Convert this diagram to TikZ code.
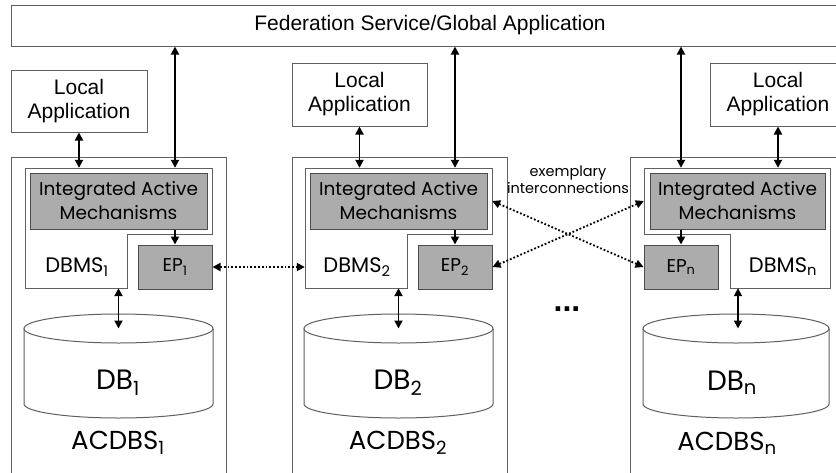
\documentclass[tikz,border=0pt]{standalone}
\usepackage{fontspec}
\setmainfont{Liberation Sans}
\newfontfamily\gothic{Poppins}
\usetikzlibrary{arrows.meta}
\definecolor{boxline}{RGB}{96,96,96}
\definecolor{boxfill}{RGB}{172,172,172}
\tikzset{
  box/.style={draw=boxline, line width=1pt, fill=white, inner sep=0pt, align=center},
  graybox/.style={box, fill=boxfill, draw=black!70},
  area/.style={inner sep=0pt},
  plain/.style={font=\fontsize{21}{24}\selectfont},
  goth/.style={font=\gothic\fontsize{18.5}{24}\selectfont},
  label/.style={font=\gothic\fontsize{21}{24}\selectfont},
  link/.style={{Triangle[length=8pt,width=8pt]}-{Triangle[length=8pt,width=8pt]}, line width=1.8pt},
  flow/.style={-{Triangle[length=8pt,width=8pt]}, line width=1.8pt},
  peer/.style={link, dotted}
}

\begin{document}
\begin{tikzpicture}[x=1pt,y=-1pt]
\clip (0,0) rectangle (836,472);

\node[box, minimum width=838, minimum height=41, font=\fontsize{21}{24}\selectfont] (fed) at (430,25.5) {Federation Service/Global Application};

\node[box, plain, minimum width=136, minimum height=62] (la1) at (79,101) {Local\\Application};
\node[box, plain, minimum width=135, minimum height=63] (la2) at (359.5,94.5) {Local\\Application};
\node[box, plain, minimum width=135, minimum height=63] (la3) at (778,94.5) {Local\\Application};

\node[box, minimum width=215, minimum height=333] (acdbs1) at (118.5,323.5) {};
\node[box, minimum width=215, minimum height=333] (acdbs2) at (399.5,323.5) {};
\node[box, minimum width=215, minimum height=333] (acdbs3) at (737.5,323.5) {};

% DBMS outlines
\node[area, minimum width=187, minimum height=120] (dbms1) at (118.5,228) {};
\node[area, minimum width=187, minimum height=120] (dbms2) at (398.5,228) {};
\node[area, minimum width=186, minimum height=120] (dbms3) at (737,228) {};
\draw[boxline, line width=1pt] (25,168) -- (212,168) -- (212,234) -- (127,234) -- (127,288) -- (25,288) -- cycle;
\draw[boxline, line width=1pt] (305,168) -- (492,168) -- (492,234) -- (407,234) -- (407,288) -- (305,288) -- cycle;
\draw[boxline, line width=1pt] (644,168) -- (830,168) -- (830,288) -- (730,288) -- (730,234) -- (644,234) -- cycle;

\node[graybox, goth, minimum width=177, minimum height=56] (iam1) at (118.5,201) {Integrated Active\\Mechanisms};
\node[graybox, goth, minimum width=177, minimum height=56] (iam2) at (398.5,201) {Integrated Active\\Mechanisms};
\node[graybox, goth, minimum width=175, minimum height=56] (iam3) at (737.5,201) {Integrated Active\\Mechanisms};

\node[graybox, goth, minimum width=74, minimum height=44] (ep1) at (175,267) {EP\textsubscript{1}};
\node[graybox, goth, minimum width=74, minimum height=44] (ep2) at (455,267) {EP\textsubscript{2}};
\node[graybox, goth, minimum width=74, minimum height=44] (ep3) at (681,267) {EP\textsubscript{n}};

\node[label] (dbmstxt1) at (77,267) {DBMS\textsubscript{1}};
\node[label] (dbmstxt2) at (357,267) {DBMS\textsubscript{2}};
\node[label] (dbmstxt3) at (783,267) {DBMS\textsubscript{n}};

% databases
\coordinate (top1) at (118.5,328.5);
\coordinate (top2) at (398.5,328.5);
\coordinate (top3) at (736,328.5);
\draw[boxline, line width=1pt] ([xshift=-94.5pt]top1) -- ++(0,75.5) arc[start angle=180, end angle=0, x radius=94.5, y radius=14] -- ++(0,-75.5);
\draw[boxline, line width=1pt] (top1) ellipse [x radius=94.5, y radius=14.5];
\draw[boxline, line width=1pt] ([xshift=-94.5pt]top2) -- ++(0,75.5) arc[start angle=180, end angle=0, x radius=94.5, y radius=14] -- ++(0,-75.5);
\draw[boxline, line width=1pt] (top2) ellipse [x radius=94.5, y radius=14.5];
\draw[boxline, line width=1pt] ([xshift=-93pt]top3) -- ++(0,75.5) arc[start angle=180, end angle=0, x radius=93, y radius=14] -- ++(0,-75.5);
\draw[boxline, line width=1pt] (top3) ellipse [x radius=93, y radius=14.5];

\node[font=\gothic\fontsize{28}{30}\selectfont] (db1) at (118,383) {DB\textsubscript{1}};
\node[font=\gothic\fontsize{28}{30}\selectfont] (db2) at (398,383) {DB\textsubscript{2}};
\node[font=\gothic\fontsize{28}{30}\selectfont] (db3) at (732,383) {DB\textsubscript{n}};

\node[font=\gothic\fontsize{26}{28}\selectfont] (name1) at (118,443) {ACDBS\textsubscript{1}};
\node[font=\gothic\fontsize{26}{28}\selectfont] (name2) at (398,443) {ACDBS\textsubscript{2}};
\node[font=\gothic\fontsize{26}{28}\selectfont] (name3) at (727,443) {ACDBS\textsubscript{n}};

% connections
\draw[link] (la1.south) -- (la1 |- dbms1.north);
\draw[link] (la2.south) -- (la2 |- dbms2.north);
\draw[link] (la3.south) -- (la3 |- dbms3.north);
\draw[link] (ep1 |- fed.south) -- (ep1 |- dbms1.north);
\draw[link] (ep2 |- fed.south) -- (ep2 |- dbms2.north);
\draw[link] (ep3 |- fed.south) -- (ep3 |- dbms3.north);
\draw[flow] (ep1 |- iam1.south) -- (ep1.north);
\draw[flow] (ep2 |- iam2.south) -- (ep2.north);
\draw[flow] (ep3 |- iam3.south) -- (ep3.north);
\draw[link] (top1 |- dbms1.south) -- (top1);
\draw[link] (top2 |- dbms2.south) -- (top2);
\draw[link] ([xshift=2pt]top3 |- dbms3.south) -- ([xshift=2pt]top3);

\draw[peer] (ep1.east) -- (ep1.east -| dbms2.west);
\draw[peer] (iam2.east -| dbms2.east) -- (ep3.west);
\draw[peer] (ep2.east) -- (iam3.west -| dbms3.west);

\node[font=\gothic\fontsize{14.5}{17}\selectfont, align=center] (note) at (568,180) {exemplary\\interconnections};
\node[font=\bfseries\fontsize{32}{32}\selectfont, anchor=base] (more) at (567,311) {...};
\end{tikzpicture}
\end{document}
